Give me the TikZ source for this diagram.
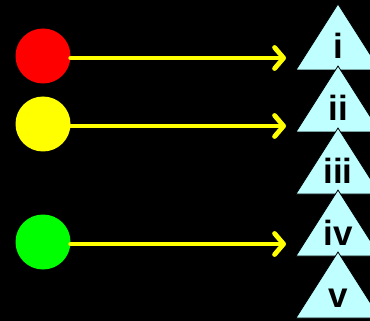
\documentclass[tikz,border=0pt]{standalone}
\usepackage{fontspec}
\setmainfont{Liberation Sans}
\usetikzlibrary{positioning, arrows.meta}

\definecolor{tricyan}{RGB}{191,255,255}
\definecolor{lightyellow}{RGB}{255,255,0}
\definecolor{lightgreen}{RGB}{0,255,0}

\begin{document}
\begin{tikzpicture}[x=1pt, y=-1pt, >={Straight Barb[length=9pt, width=21pt, round]},
    dot/.style={circle, minimum size=55pt, inner sep=0pt},
    link/.style={->, draw=lightyellow, line width=4.8pt, line cap=round},
    tri/.style={fill=tricyan, draw=black, line width=0.8pt},
    num/.style={font=\fontsize{35}{35}\selectfont\bfseries, anchor=base, inner sep=0pt}]
    \useasboundingbox[fill=black] (0,0) rectangle (370,321);
    \clip (0,0) rectangle (370,321);

    \node[dot, fill=red] (red) at (43,56) {};
    \node[dot, fill=lightyellow] (yellow) at (43,124) {};
    \node[dot, fill=lightgreen] (green) at (43,242) {};

    \coordinate (endi) at (286,58);
    \coordinate (endii) at (286,126);
    \coordinate (endiv) at (286,244);

    \draw[link] (red.east |- endi) -- (endi);
    \draw[link] (yellow.east |- endii) -- (endii);
    \draw[link] (green.east |- endiv) -- (endiv);

    \foreach \lab/\ypos in {i/4, ii/66, iii/128, iv/190, v/252} {
        \draw[tri] (338,\ypos) -- (380,\ypos+66) -- (296,\ypos+66) -- cycle;
        \node[num] (t\lab) at (338,\ypos+55) {\lab};
    }
\end{tikzpicture}
\end{document}
